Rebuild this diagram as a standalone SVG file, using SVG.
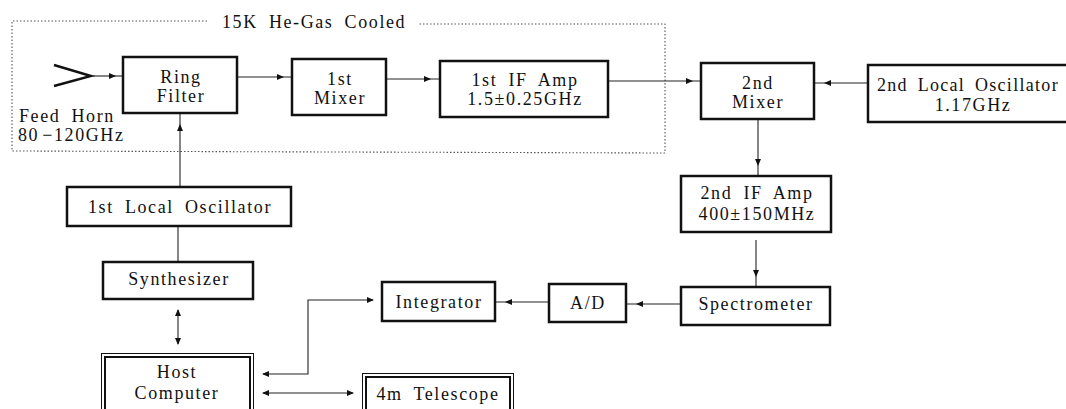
<svg xmlns="http://www.w3.org/2000/svg" xmlns:xlink="http://www.w3.org/1999/xlink" width="1066" height="409" viewBox="0 0 1066 409">
<style>
.box{fill:#fff;stroke:#111;stroke-width:2.5}
.thin{fill:none;stroke:#111;stroke-width:1}
.dbl{fill:none;stroke:#111;stroke-width:2}
.t{font-family:"Liberation Serif","Times New Roman",serif;font-size:18px;fill:#111;letter-spacing:1.6px;word-spacing:5px;text-anchor:middle}
.ts{text-anchor:start}
.conn{fill:none;stroke:#222;stroke-width:1.1}
.dot{fill:none;stroke:#555;stroke-width:1.1;stroke-dasharray:1.5 2}
.ah{fill:#111}
</style>
<defs>
<path id="ah" class="ah" d="M0,0 L-7,-3 L-7,3 Z"/>
</defs>
<rect width="1066" height="409" fill="#fff"/>

<g id="cooled">
<path class="dot" d="M207,21 L12,21 L12,151 L665,153 L665,24 L418,24"/>
<text class="t ts" x="222" y="28">15K He-Gas Cooled</text>
</g>

<g id="connectors">
<path class="conn" d="M93,76 L123,76"/>
<use xlink:href="#ah" transform="translate(116,76)"/>
<path class="conn" d="M237,77 L292,77"/>
<use xlink:href="#ah" transform="translate(284,77)"/>
<path class="conn" d="M386,79 L440,79"/>
<use xlink:href="#ah" transform="translate(431,79)"/>
<path class="conn" d="M608,81 L701,81"/>
<use xlink:href="#ah" transform="translate(693,81)"/>
<path class="conn" d="M868,83 L814,83"/>
<use xlink:href="#ah" transform="translate(824,83) rotate(180)"/>
<path class="conn" d="M758,119 L758,176"/>
<use xlink:href="#ah" transform="translate(758,166) rotate(90)"/>
<path class="conn" d="M756,240 L756,287"/>
<use xlink:href="#ah" transform="translate(756,277) rotate(90)"/>
<path class="conn" d="M681,304 L626,304"/>
<use xlink:href="#ah" transform="translate(636,304) rotate(180)"/>
<path class="conn" d="M549,302 L495,302"/>
<use xlink:href="#ah" transform="translate(505,302) rotate(180)"/>
<path class="conn" d="M263,374 L308,374 L308,300 L373,300"/>
<use xlink:href="#ah" transform="translate(262,374) rotate(180)"/>
<use xlink:href="#ah" transform="translate(374,300)"/>
<path class="conn" d="M263,393 L353,393"/>
<use xlink:href="#ah" transform="translate(262,393) rotate(180)"/>
<use xlink:href="#ah" transform="translate(354,393)"/>
<path class="conn" d="M180,187 L180,113"/>
<use xlink:href="#ah" transform="translate(180,124) rotate(-90)"/>
<path class="conn" d="M178,226 L178,262"/>
<path class="conn" d="M178,310 L178,344"/>
<use xlink:href="#ah" transform="translate(178,309) rotate(-90)"/>
<use xlink:href="#ah" transform="translate(178,345) rotate(90)"/>
</g>

<g id="feed-horn">
<path d="M54,65 L91,76 L54,86" fill="none" stroke="#111" stroke-width="2.4"/>
<text class="t ts" x="19" y="122">Feed Horn</text>
<text class="t ts" x="18" y="141">80<tspan dx="3">−120GHz</tspan></text>
</g>

<g id="ring-filter">
<rect class="box" x="123" y="57" width="114" height="56"/>
<text class="t" x="181" y="83">Ring</text>
<text class="t" x="181" y="102">Filter</text>
</g>

<g id="first-mixer">
<rect class="box" x="292" y="59" width="94" height="56"/>
<text class="t" x="340" y="85">1st</text>
<text class="t" x="340" y="104">Mixer</text>
</g>

<g id="first-if-amp">
<rect class="box" x="440" y="61" width="168" height="56"/>
<text class="t" x="525" y="86">1st IF Amp</text>
<text class="t" x="525" y="105">1.5±0.25GHz</text>
</g>

<g id="second-mixer">
<rect class="box" x="701" y="63" width="113" height="56"/>
<text class="t" x="758" y="89">2nd</text>
<text class="t" x="758" y="108">Mixer</text>
</g>

<g id="second-lo">
<rect class="box" x="868" y="65" width="210" height="57"/>
<text class="t ts" x="877" y="91" style="letter-spacing:1.3px;word-spacing:4px">2nd Local Oscillator</text>
<text class="t" x="973" y="111">1.17GHz</text>
</g>

<g id="second-if-amp">
<rect class="box" x="681" y="176" width="150" height="56"/>
<text class="t" x="757" y="199">2nd IF Amp</text>
<text class="t" x="757" y="220">400±150MHz</text>
</g>

<g id="spectrometer">
<rect class="box" x="681" y="287" width="149" height="38"/>
<text class="t" x="756" y="310">Spectrometer</text>
</g>

<g id="ad">
<rect class="box" x="549" y="284" width="77" height="38"/>
<text class="t" x="588" y="309">A/D</text>
</g>

<g id="integrator">
<rect class="box" x="382" y="282" width="113" height="39"/>
<text class="t" x="439" y="308">Integrator</text>
</g>

<g id="first-lo">
<rect class="box" x="67" y="187" width="224" height="39"/>
<text class="t" x="180" y="213">1st Local Oscillator</text>
</g>

<g id="synthesizer">
<rect class="box" x="103" y="262" width="150" height="37"/>
<text class="t" x="179" y="285">Synthesizer</text>
</g>

<g id="host-computer">
<rect class="thin" x="101.5" y="353.5" width="152" height="70"/>
<rect class="dbl" x="105" y="357" width="145" height="70"/>
<text class="t" x="177" y="378">Host</text>
<text class="t" x="177" y="399">Computer</text>
</g>

<g id="telescope">
<rect class="thin" x="362.5" y="373.5" width="151" height="60"/>
<rect class="dbl" x="366" y="377" width="144" height="60"/>
<text class="t" x="438" y="400">4m Telescope</text>
</g>
</svg>
